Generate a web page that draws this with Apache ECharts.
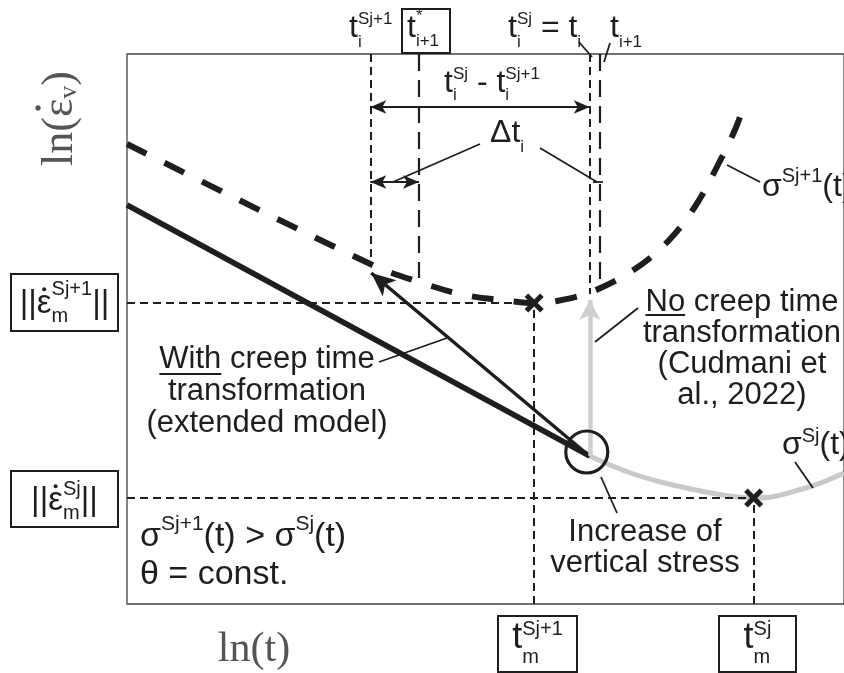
<!DOCTYPE html>
<html><head><meta charset="utf-8">
<script src="https://cdn.jsdelivr.net/npm/echarts@6/dist/echarts.min.js"></script>
<style>html,body{margin:0;padding:0;background:#fff}#c{width:844px;height:673px}</style>
</head><body><div id="c"></div>
<script>
// ---- schematic data (x: ln(t) units, y: ln(strain rate) units) ----
const curveSj1 = [[0,460],[245,340],[294,322],[340,309],[386,303],[410,301],[433,303],[470,313],[513,336],[546,364],[573,399],[595,439],[613,476],[623,504]];
const curveSj = [[466,148],[513,129],[563,116],[606,108],[631,106],[680,115],[722,131]];
const lineWith = [[0,399],[466,148]];
const stressPoint = [466,148];
const minima = [[410,301],[631,106]];
const tmValues = [410, 631];
const epsLevels = [301, 106];
const tiValues = [245, 294, 466, 476];   // t_i^{Sj+1}, t*_{i+1}, t_i^{Sj}=t_i, t_{i+1}
const arrowWithTarget = [246, 331];
const arrowNoTarget = [466, 304];
const spanLevels = [497, 422];           // heights of the two dimension arrows

const SANS = '"Liberation Sans", Arial, sans-serif';
const SERIF = '"Liberation Serif", "DejaVu Serif", serif';
const INK = '#1e1e1e';
const cv = document.createElement('canvas').getContext('2d');
function tw(s, size, fam){ cv.font = size + 'px ' + fam; return cv.measureText(s).width; }
function T(x, y, s, size, fam, o){
  o = o || {};
  const al = o.align || 'left';
  return {type:'text', x:x, y:y, silent:true, z:100,
    style:{text:s, fontSize:size, fontFamily:fam, font:size + 'px ' + fam, fill:o.fill || INK,
      align:al, textAlign:al, verticalAlign:'middle', textVerticalAlign:'middle', lineHeight:o.lh}};
}
function M(x, y, toks, o){
  const fam = o.fam || SANS, els = [];
  const widths = toks.map(t => typeof t === 'string' ? tw(t, o.size, fam)
    : t.dot ? tw(t.dot, o.size, fam)
    : Math.max(t.sup ? tw(t.sup, o.ss, fam) : 0, t.sub ? tw(t.sub, o.ss, fam) : 0) + (o.gap || 0));
  const total = widths.reduce((a, b) => a + b, 0);
  let cx = o.center ? x - total / 2 : x;
  toks.forEach((t, i) => {
    if (typeof t === 'string') els.push(T(cx, y, t, o.size, fam, o));
    else if (t.dot) {
      els.push(T(cx, y, t.dot, o.size, fam, o));
      els.push({type:'circle', z:100, silent:true, shape:{cx:cx + widths[i] * 0.5 + (o.dotDx || 0), cy:y - o.size * (o.dotUp || 0.42), r:o.size * 0.06},
        style:{fill:o.fill || INK}});
    } else {
      if (t.sup) els.push(T(cx + (o.gap || 0), y + (o.up || -10), t.sup, o.ss, fam, o));
      if (t.sub) els.push(T(cx + (o.gap || 0), y + (o.dn || 12), t.sub, o.ss, fam, o));
    }
    cx += widths[i];
  });
  return els;
}
function box(x, y, w, h){ return {type:'rect', z:99, silent:true, shape:{x:x, y:y, width:w, height:h}, style:{fill:'#fff', stroke:INK, lineWidth:2}}; }
function ln(x1, y1, x2, y2, w){ return {type:'line', z:99, silent:true, shape:{x1:x1, y1:y1, x2:x2, y2:y2}, style:{stroke:INK, lineWidth:w || 1.8}}; }

function interp(curve, x){
  for (let i = 1; i < curve.length; i++) {
    if (x <= curve[i][0]) { const a = curve[i-1], b = curve[i]; return a[1] + (b[1]-a[1]) * (x-a[0]) / (b[0]-a[0]); }
  }
  return curve[curve.length-1][1];
}

const thinDash = {color:INK, width:2, type:[8,5]};
const longDash = {color:INK, width:2.2, type:[17,9]};
function seg(a, b, ls, s1, s2, size){
  return [{coord:a, symbol:s1 || 'none', symbolSize:size || 10, lineStyle:ls, itemStyle:{color:ls.color}},
          {coord:b, symbol:s2 || 'none', symbolSize:size || 10, itemStyle:{color:ls.color}}];
}

const guides = [
  seg([0, epsLevels[0]], [tmValues[0], epsLevels[0]], thinDash),
  seg([0, epsLevels[1]], [tmValues[1], epsLevels[1]], thinDash),
  seg([tmValues[0], 0], [tmValues[0], epsLevels[0]], thinDash),
  seg([tmValues[1], 0], [tmValues[1], epsLevels[1]], thinDash),
  seg([tiValues[0], 550], [tiValues[0], interp(curveSj1, tiValues[0])], thinDash),
  seg([tiValues[1], 550], [tiValues[1], interp(curveSj1, tiValues[1]) + 4], longDash),
  seg([tiValues[2], 550], [tiValues[2], interp(curveSj1, tiValues[2]) - 2], thinDash),
  seg([tiValues[3], 550], [tiValues[3], interp(curveSj1, tiValues[3]) + 2], longDash)
];
const black = {color:INK, width:2, type:'solid'};
const arrows = [
  seg([tiValues[0], spanLevels[0]], [tiValues[2], spanLevels[0]], black, 'arrow', 'arrow', [10, 16]),
  seg([tiValues[0], spanLevels[1]], [tiValues[1], spanLevels[1]], black, 'arrow', 'arrow', [10, 16]),
  seg([stressPoint[0] - 4, stressPoint[1] + 3], arrowWithTarget, {color:INK, width:3.5, type:'solid'}, 'none', 'arrow', [16, 24])
];
const grayArrow = [ seg(stressPoint, arrowNoTarget, {color:'#cfcfcf', width:4.5, type:'solid'}, 'none', 'arrow', [16, 20]) ];

const XPATH = 'path://M0,3L3,0L8,5L13,0L16,3L11,8L16,13L13,16L8,11L3,16L0,13L5,8Z';

// ---- text / annotation graphics ----
const G = [];
const supO = {size:32, ss:17, up:-9, dn:14};
G.push(...M(349, 28, ['t', {sup:'Sj+1', sub:'i'}], supO));
G.push(box(402, 9, 48, 44));
G.push(...M(407, 28, ['t', {sup:'*', sub:'i+1'}], {size:32, ss:17, up:-12, dn:13}));
G.push(...M(508, 28, ['t', {sup:'Sj', sub:'i'}, ' = t', {sub:'i'}], supO));
G.push(...M(610, 28, ['t', {sub:'i+1'}], supO));
G.push(ln(579, 42, 592, 57), ln(610, 43, 604, 62));
G.push(...M(444, 83, ['t', {sup:'Sj', sub:'i'}, ' - t', {sup:'Sj+1', sub:'i'}], {size:32, ss:17, up:-9, dn:12}));
G.push(...M(490, 133, ['Δt', {sub:'i'}], {size:32, ss:17, dn:14}));
G.push(ln(480, 144, 393, 182), ln(540, 148, 597, 182), ln(593, 182, 603, 182));

// left boxes
G.push(box(11, 274, 107, 57));
G.push(...M(64.5, 304, ['||', {dot:'ε'}, {sup:'Sj+1', sub:'m'}, '||'], {size:33, ss:20, up:-15, dn:12, center:true, dotUp:0.45}));
G.push(box(11, 471, 107, 56));
G.push(...M(64.5, 501, ['||', {dot:'ε'}, {sup:'Sj', sub:'m'}, '||'], {size:33, ss:20, up:-12, dn:12, center:true, dotUp:0.45}));
// bottom boxes
G.push(box(498, 616, 79, 56));
G.push(...M(537.5, 638, ['t', {sup:'Sj+1', sub:'m'}], {size:36, ss:20, up:-9, dn:19, center:true}));
G.push(box(719, 616, 77, 56));
G.push(...M(757.5, 638, ['t', {sup:'Sj', sub:'m'}], {size:36, ss:20, up:-9, dn:19, center:true}));

// axis titles (serif, grey)
G.push({type:'group', x:60, y:166, rotation:Math.PI/2, children:
  M(0, 0, ['ln(', {dot:'ε'}, {sub:'v'}, ')'], {size:44, ss:26, dn:9, fam:SERIF, fill:'#555', dotUp:0.5})});
G.push(T(254, 650, 'ln(t)', 42, SERIF, {fill:'#555', align:'center'}));

// body texts
const wTxt = 'With creep time';
G.push(T(267, 391, wTxt + '\ntransformation\n(extended model)', 31, SANS, {align:'center', lh:32}));
const wl = 267 - tw(wTxt, 31, SANS) / 2;
G.push(ln(wl, 374, wl + tw('With', 31, SANS), 374, 2));
G.push(ln(379, 362, 447, 338));
const nTxt = 'No creep time';
G.push(T(742, 349, nTxt + '\ntransformation\n(Cudmani et\nal., 2022)', 31, SANS, {align:'center', lh:31}));
const nl = 742 - tw(nTxt, 31, SANS) / 2;
G.push(ln(nl, 315, nl + tw('No', 31, SANS), 315, 2));
G.push(ln(638, 308, 595, 342));
G.push(T(645, 548, 'Increase of\nvertical stress', 31, SANS, {align:'center', lh:31}));
G.push(ln(617, 513, 601, 477));
G.push(...M(762, 187, ['σ', {sup:'Sj+1'}, '(t)'], {size:32, ss:20, up:-11}));
G.push(ln(727, 165, 760, 182));
G.push(...M(782, 445, ['σ', {sup:'Sj'}, '(t)'], {size:32, ss:20, up:-9}));
G.push(ln(795, 462, 813, 488));
G.push(...M(140, 537, ['σ', {sup:'Sj+1'}, '(t) > σ', {sup:'Sj'}, '(t)'], {size:34, ss:21, up:-13}));
G.push(T(140, 575, 'θ = const.', 34, SANS));

const chart = echarts.init(document.getElementById('c'), null, {renderer:'canvas'});
chart.setOption({
  animation:false,
  backgroundColor:'#fff',
  grid:{left:127, top:54, right:-5, bottom:69, show:true, borderColor:'#444', borderWidth:1.3, backgroundColor:'transparent'},
  xAxis:{type:'value', min:0, max:722, axisLine:{show:false}, splitLine:{show:false}, axisLabel:{show:false},
    axisTick:{show:true, inside:true, length:6, customValues:tmValues, lineStyle:{color:'#333', width:1.5}}},
  yAxis:{type:'value', min:0, max:550, axisLine:{show:false}, splitLine:{show:false}, axisLabel:{show:false}, axisTick:{show:false}},
  series:[
    {type:'line', data:[], z:1, clip:false, silent:true,
      markLine:{silent:true, animation:false, label:{show:false}, symbol:'none', data:guides}},
    {type:'line', data:curveSj, smooth:0.45, symbol:'none', z:2, silent:true,
      lineStyle:{color:'#c9c9c9', width:5}},
    {type:'line', data:[], z:2, clip:false, silent:true,
      markLine:{silent:true, animation:false, label:{show:false}, lineStyle:{type:'solid'}, data:grayArrow}},
    {type:'line', data:curveSj1, smooth:0.35, symbol:'none', z:3, silent:true,
      lineStyle:{color:INK, width:6, type:[22,20], cap:'butt'}},
    {type:'line', data:lineWith, symbol:'none', z:4, silent:true,
      lineStyle:{color:INK, width:5.5}},
    {type:'line', data:[], z:5, clip:false, silent:true,
      markLine:{silent:true, animation:false, label:{show:false}, lineStyle:{type:'solid'}, data:arrows}},
    {type:'scatter', data:minima, symbol:XPATH, symbolSize:19, z:6, silent:true, itemStyle:{color:INK, opacity:1}},
    {type:'scatter', data:[stressPoint], symbol:'circle', symbolSize:42, z:6, silent:true,
      symbolOffset:[-3,-4], itemStyle:{color:'rgba(0,0,0,0)', borderColor:INK, borderWidth:3.2, opacity:1}}
  ],
  graphic:{elements:G}
});
</script></body></html>
